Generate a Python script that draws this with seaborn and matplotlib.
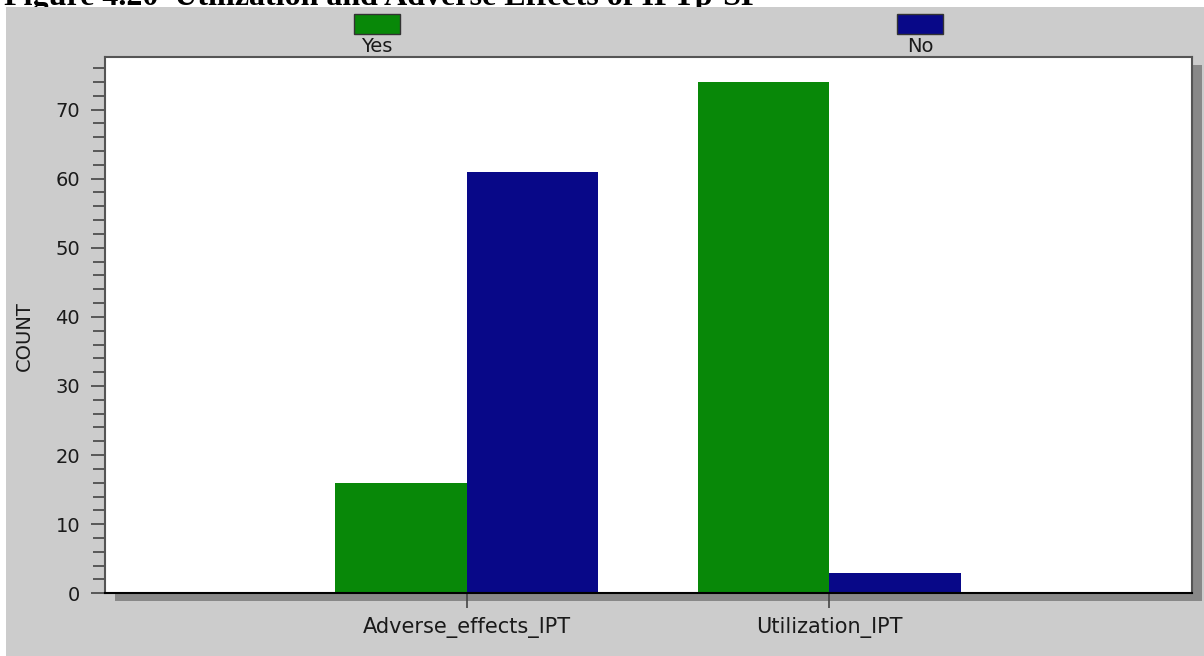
import matplotlib
matplotlib.use("Agg")
import matplotlib.pyplot as plt
from matplotlib.patches import Rectangle
from matplotlib.ticker import MultipleLocator
import seaborn as sns
import pandas as pd

# ---- data ----
categories = ["Adverse_effects_IPT", "Utilization_IPT"]
yes_counts = [16, 74]
no_counts = [61, 3]
series_names = ["Yes", "No"]
title_text = "Figure 4.20  Utilization and Adverse Effects of IPTp-SP"
y_label = "COUNT"

colors = ["#088808", "#080888"]

df = pd.DataFrame({
    "category": categories * 2,
    "response": [series_names[0]] * len(categories) + [series_names[1]] * len(categories),
    "count": yes_counts + no_counts,
})

sns.set_theme(style="white")
plt.rcParams["font.family"] = ["DejaVu Sans"]

W, H = 1204, 656
fig = plt.figure(figsize=(W / 100, H / 100), dpi=100, facecolor="white")

def px(x0, y0, x1, y1):
    """pixel box (top-left origin) -> figure fraction rect"""
    return (x0 / W, 1 - y1 / H, (x1 - x0) / W, (y1 - y0) / H)

# title (partially cut off at top and hidden below by the grey panel, as in reference)
fig.text(4 / W, 1 - 5 / H, title_text, ha="left", va="baseline",
         fontsize=23, fontweight="bold", family=["Liberation Serif"], color="black",
         zorder=-4)

# grey panel
r = px(6, 7, W, H)
fig.patches.append(Rectangle(r[:2], *r[2:], transform=fig.transFigure,
                             facecolor="#cccccc", edgecolor="none", zorder=-3))
# shadow
r = px(115, 65, 1202, 601)
fig.patches.append(Rectangle(r[:2], *r[2:], transform=fig.transFigure,
                             facecolor="#888888", edgecolor="none", zorder=-2))

ax = fig.add_axes(px(105, 57, 1192, 593.3))
ax.set_facecolor("white")

sns.barplot(data=df, x="category", y="count", hue="response",
            hue_order=series_names, order=categories, palette=colors,
            saturation=1, width=0.725, dodge=True, legend=False, ax=ax,
            edgecolor="none", linewidth=0)

ax.set_xlim(-0.9975, 2.0)
ax.set_ylim(0, 77.6)
ax.yaxis.set_major_locator(MultipleLocator(10))
ax.yaxis.set_minor_locator(MultipleLocator(2))

ax.tick_params(axis="y", which="major", length=10, width=1.2, color="#444444",
               labelsize=14, labelcolor="#1a1a1a", pad=8, left=True)
ax.tick_params(axis="y", which="minor", length=8.5, width=1.2, color="#444444", left=True)
ax.tick_params(axis="x", which="major", length=11, width=1.2, color="#444444",
               labelsize=15, labelcolor="#1a1a1a", pad=6, bottom=True)

ax.set_xlabel("")
ax.set_ylabel(y_label, fontsize=14, color="#1a1a1a")
ax.yaxis.set_label_coords((34 - 105) / 1087, (593.3 - 336) / 536.3)

for side in ["left", "top", "right"]:
    ax.spines[side].set_color("#555555")
    ax.spines[side].set_linewidth(1.5)
    ax.spines[side].set_visible(True)
ax.spines["bottom"].set_color("black")
ax.spines["bottom"].set_linewidth(1.5)
ax.spines["bottom"].set_visible(True)
ax.grid(False)

# legend: swatch above label, entries at 1/4 and 3/4 of the axes width
ax_h = 536.3
for i, (name, col) in enumerate(zip(series_names, colors)):
    xc = 0.25 + 0.5 * i
    w = 46 / 1087
    ax.add_patch(Rectangle((xc - w / 2, 1 + (57 - 34) / ax_h), w, 20 / ax_h,
                           transform=ax.transAxes, facecolor=col,
                           edgecolor="#333333", linewidth=1, clip_on=False))
    ax.text(xc, 1 + (57 - 46.5) / ax_h, name, transform=ax.transAxes,
            ha="center", va="center", fontsize=14, color="#1a1a1a")

fig.savefig("out.png", dpi=100, facecolor="white")
